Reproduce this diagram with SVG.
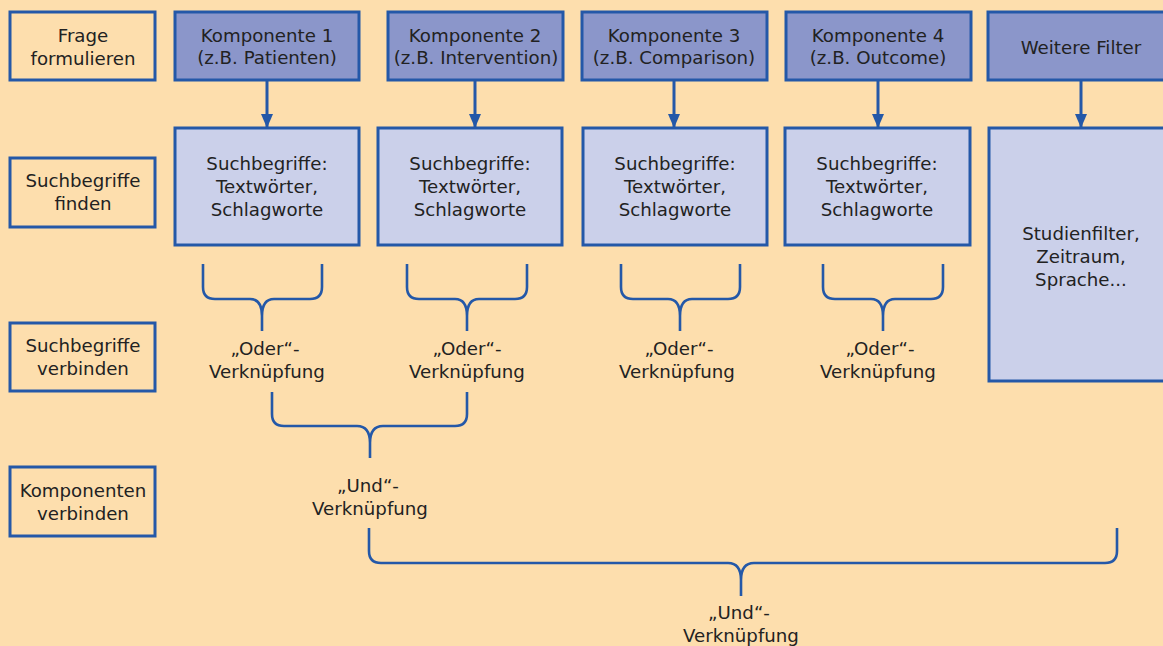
<svg xmlns="http://www.w3.org/2000/svg" width="1163" height="646" viewBox="0 0 1163 646">
<style>
.bg{fill:#FDDEAD}
.lbl{fill:#FDDEAD;stroke:#2458A8;stroke-width:3}
.dk{fill:#8B96CA;stroke:#2458A8;stroke-width:3}
.lt{fill:#CBD0EA;stroke:#2458A8;stroke-width:3}
text{font-family:"DejaVu Sans","Open Sans",sans-serif;font-size:18.2px;fill:#222222;text-anchor:middle}
.br{fill:none;stroke:#2458A8;stroke-width:2.6;stroke-linejoin:round}
.ar{stroke:#2458A8;stroke-width:3;fill:none}
</style>
<defs>
<marker id="ah" viewBox="0 0 14 12" refX="13" refY="6" markerWidth="14" markerHeight="12" markerUnits="userSpaceOnUse" orient="auto">
<path d="M0,0 L14,6 L0,12 Z" fill="#2458A8"/>
</marker>
</defs>
<rect class="bg" x="0" y="0" width="1163" height="646"/>

<g id="frage"><rect class="lbl" x="10" y="12" width="145" height="68"/><text x="83" y="42">Frage</text><text x="83" y="65">formulieren</text></g>
<g id="finden"><rect class="lbl" x="10" y="158" width="145" height="69"/><text x="83" y="187">Suchbegriffe</text><text x="83" y="210">finden</text></g>
<g id="verbinden"><rect class="lbl" x="10" y="323" width="145" height="68"/><text x="83" y="352">Suchbegriffe</text><text x="83" y="375">verbinden</text></g>
<g id="kompverb"><rect class="lbl" x="10" y="467" width="145" height="69"/><text x="83" y="497">Komponenten</text><text x="83" y="520">verbinden</text></g>

<g id="k1"><rect class="dk" x="175" y="12" width="184" height="68"/><text x="267" y="42">Komponente 1</text><text x="267" y="64">(z.B. Patienten)</text></g>
<g id="k2"><rect class="dk" x="388" y="12" width="175" height="68"/><text x="475" y="42">Komponente 2</text><text x="476" y="64">(z.B. Intervention)</text></g>
<g id="k3"><rect class="dk" x="582" y="12" width="185" height="68"/><text x="674" y="42">Komponente 3</text><text x="674" y="64">(z.B. Comparison)</text></g>
<g id="k4"><rect class="dk" x="786" y="12" width="185" height="68"/><text x="878" y="42">Komponente 4</text><text x="878" y="64">(z.B. Outcome)</text></g>
<g id="wf"><rect class="dk" x="988" y="12" width="178" height="68"/><text x="1081" y="54">Weitere Filter</text></g>

<g id="s1"><rect class="lt" x="175" y="128" width="184" height="117"/><text x="267" y="170">Suchbegriffe:</text><text x="267" y="193">Textwörter,</text><text x="267" y="216">Schlagworte</text></g>
<g id="s2"><rect class="lt" x="378" y="128" width="184" height="117"/><text x="470" y="170">Suchbegriffe:</text><text x="470" y="193">Textwörter,</text><text x="470" y="216">Schlagworte</text></g>
<g id="s3"><rect class="lt" x="583" y="128" width="184" height="117"/><text x="675" y="170">Suchbegriffe:</text><text x="675" y="193">Textwörter,</text><text x="675" y="216">Schlagworte</text></g>
<g id="s4"><rect class="lt" x="785" y="128" width="185" height="117"/><text x="877" y="170">Suchbegriffe:</text><text x="877" y="193">Textwörter,</text><text x="877" y="216">Schlagworte</text></g>
<g id="sf"><rect class="lt" x="989" y="128" width="177" height="253"/><text x="1081" y="240">Studienfilter,</text><text x="1081" y="263">Zeitraum,</text><text x="1081" y="286">Sprache...</text></g>

<g id="oder1"><text x="265" y="355">„Oder“-</text><text x="267" y="378">Verknüpfung</text></g>
<g id="oder2"><text x="467" y="355">„Oder“-</text><text x="467" y="378">Verknüpfung</text></g>
<g id="oder3"><text x="679" y="355">„Oder“-</text><text x="677" y="378">Verknüpfung</text></g>
<g id="oder4"><text x="880" y="355">„Oder“-</text><text x="878" y="378">Verknüpfung</text></g>
<g id="und1"><text x="368" y="492">„Und“-</text><text x="370" y="515">Verknüpfung</text></g>
<g id="und2"><text x="739" y="619">„Und“-</text><text x="741" y="642">Verknüpfung</text></g>

<g id="connectors">
<line class="ar" x1="267" y1="81" x2="267" y2="127" marker-end="url(#ah)"/>
<line class="ar" x1="475" y1="81" x2="475" y2="127" marker-end="url(#ah)"/>
<line class="ar" x1="674" y1="81" x2="674" y2="127" marker-end="url(#ah)"/>
<line class="ar" x1="878" y1="81" x2="878" y2="127" marker-end="url(#ah)"/>
<line class="ar" x1="1081" y1="81" x2="1081" y2="127" marker-end="url(#ah)"/>

<path class="br" d="M203,264 V287 Q203,299 215,299 H250 Q262,299 262,316 V331 M322,264 V287 Q322,299 310,299 H274 Q262,299 262,316"/>
<path class="br" d="M407,264 V287 Q407,299 419,299 H455 Q467,299 467,316 V331 M527,264 V287 Q527,299 515,299 H479 Q467,299 467,316"/>
<path class="br" d="M621,264 V287 Q621,299 633,299 H668 Q680,299 680,316 V331 M740,264 V287 Q740,299 728,299 H692 Q680,299 680,316"/>
<path class="br" d="M823,264 V287 Q823,299 835,299 H871 Q883,299 883,316 V331 M943,264 V287 Q943,299 931,299 H895 Q883,299 883,316"/>
<path class="br" d="M272,392 V414 Q272,426 284,426 H357 Q370,426 370,443 V458 M467,392 V414 Q467,426 455,426 H383 Q370,426 370,443"/>
<path class="br" d="M369,528 V551 Q369,563 381,563 H728 Q741,563 741,580 V596 M1117,528 V551 Q1117,563 1105,563 H754 Q741,563 741,580"/>
</g>
</svg>
